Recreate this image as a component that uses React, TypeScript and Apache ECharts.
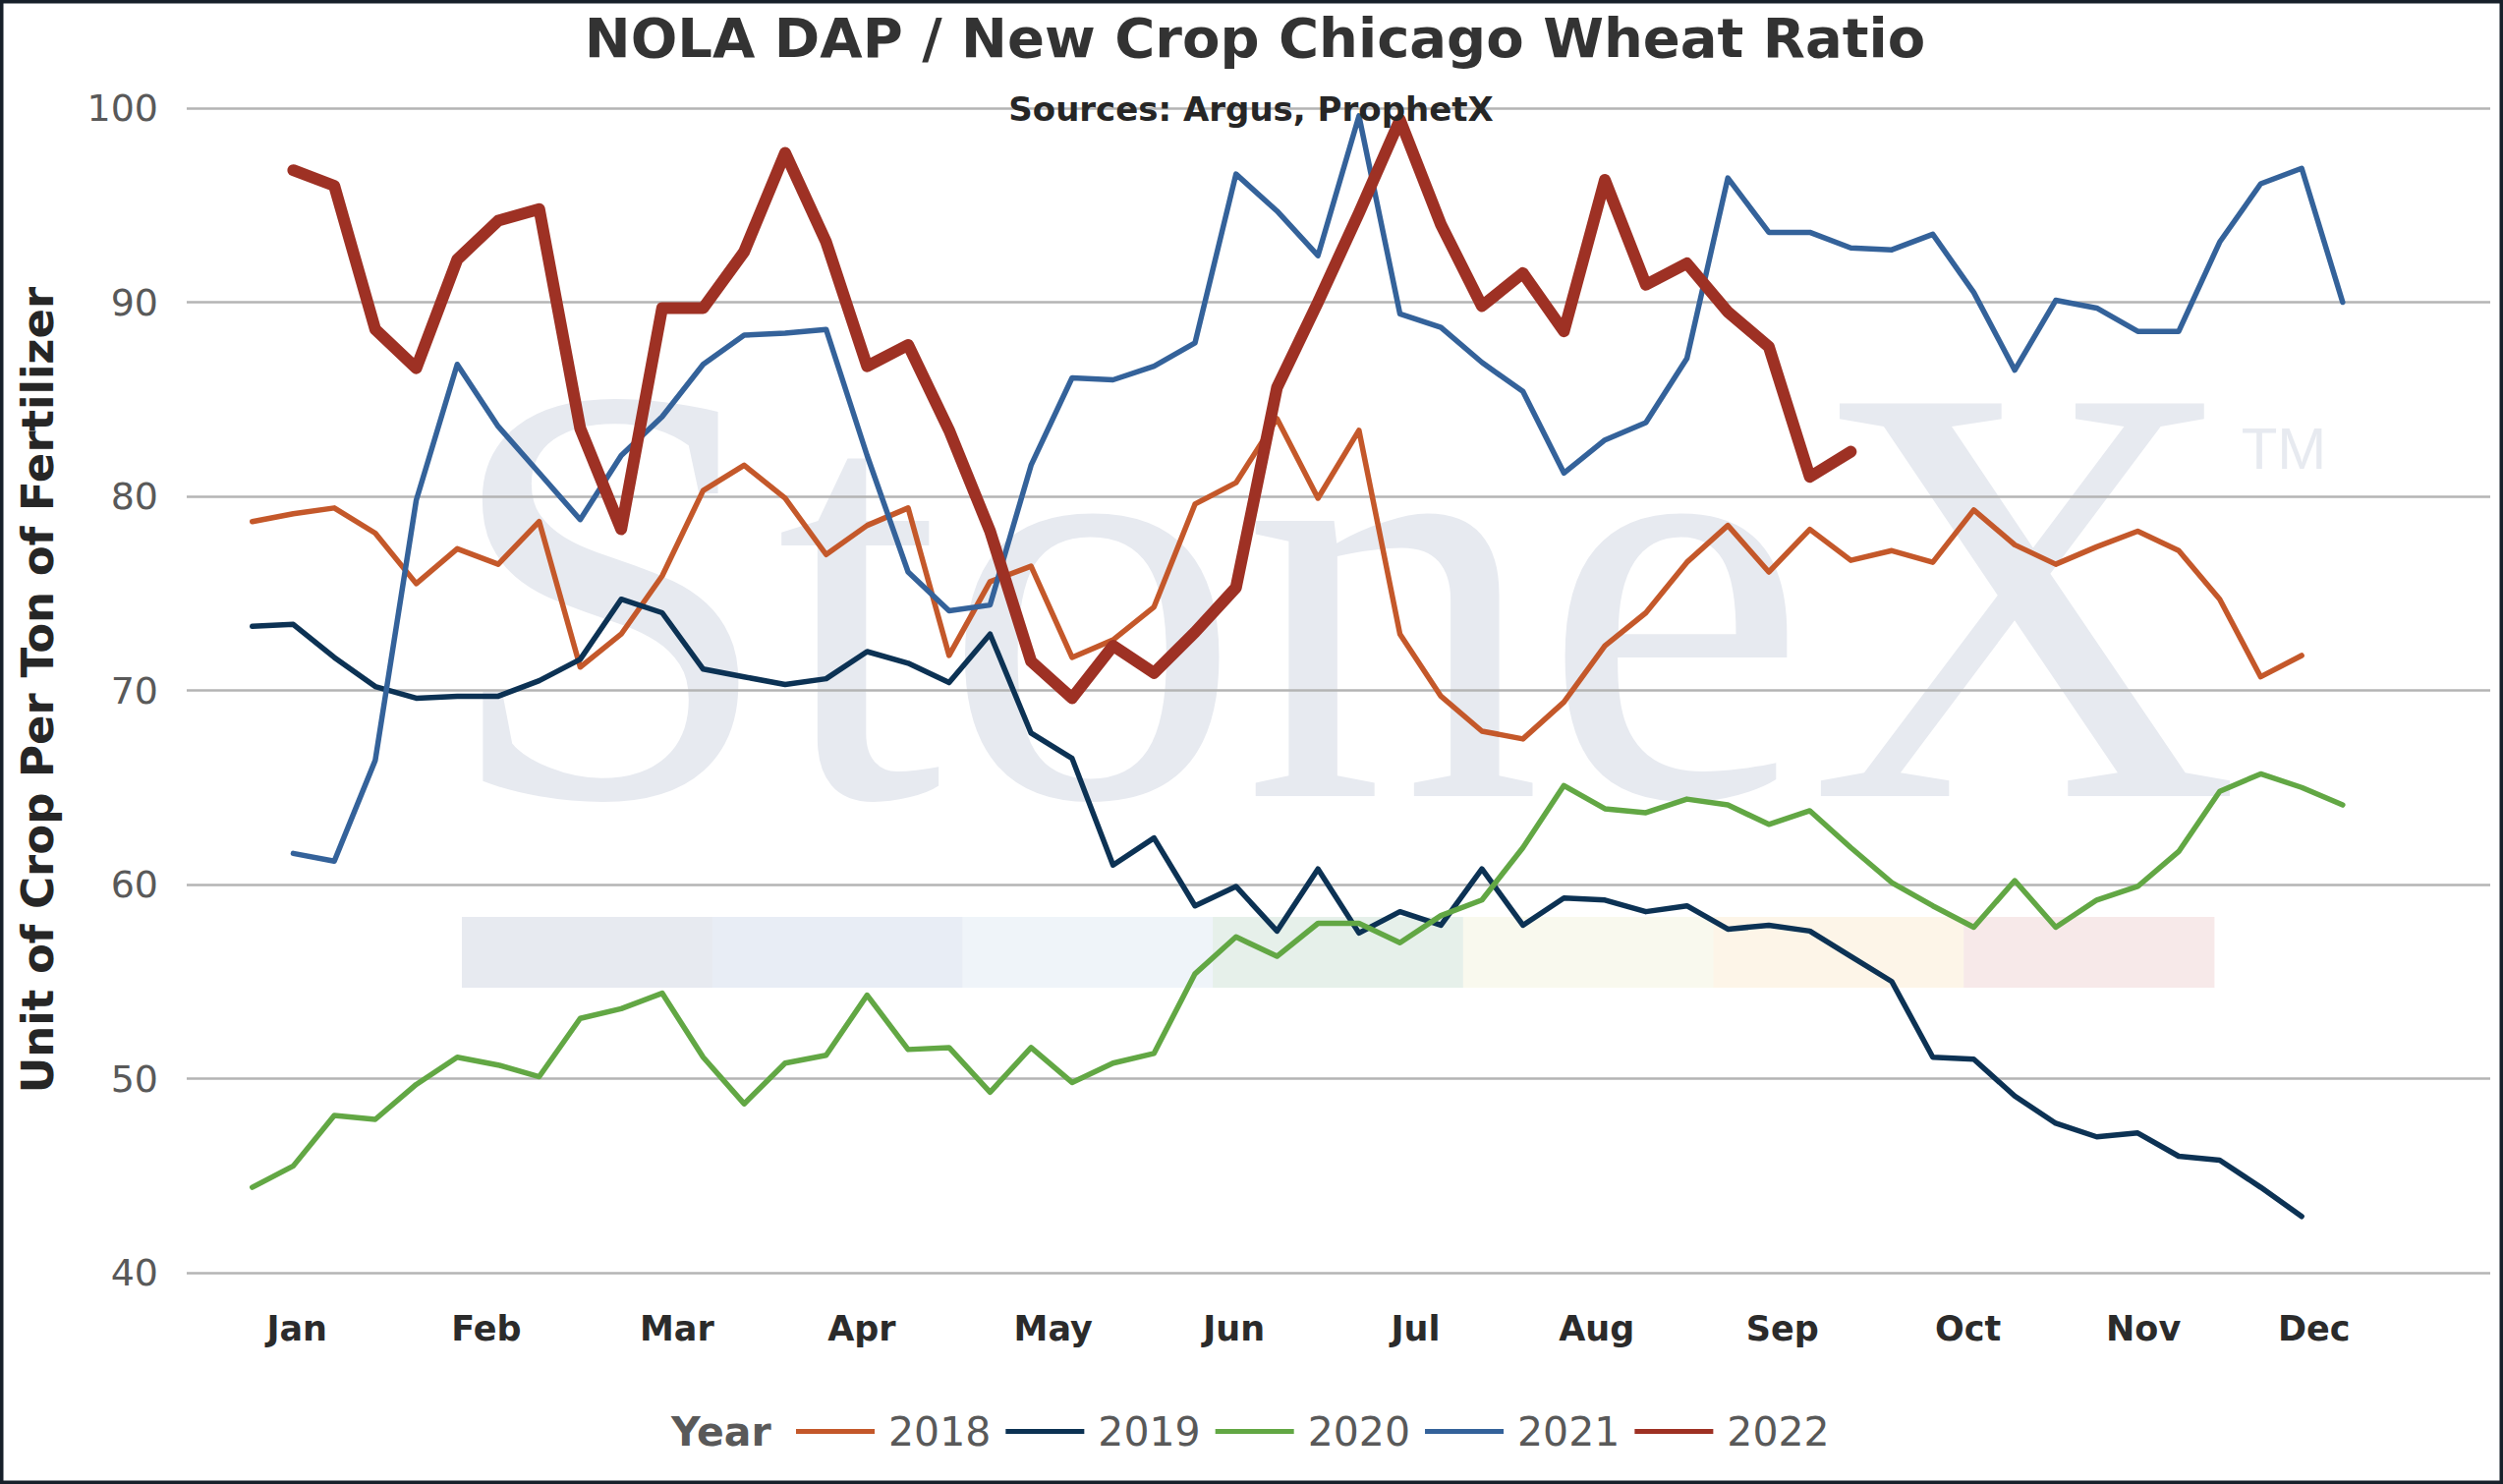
import React, { useEffect, useRef } from "react";
import * as echarts from "echarts";

const YEARS = ["2018", "2019", "2020", "2021", "2022"];
const COLORS = ["#c4582a", "#0c3254", "#62a744", "#34629a", "#9e3124"];
const WIDTHS = [5.5, 5.5, 5.5, 5.5, 12];

const MONTHS = ["Jan", "Feb", "Mar", "Apr", "May", "Jun", "Jul", "Aug", "Sep", "Oct", "Nov", "Dec"];
const MONTH_POS = [1.09, 5.71, 10.36, 14.87, 19.54, 23.95, 28.38, 32.8, 37.33, 41.86, 46.14, 50.3];
const Y_TICKS = [40, 50, 60, 70, 80, 90, 100];

// weekly values, index = week of year (0..51); null = no data
const S2018 = [78.7, 79.1, 79.4, 78.1, 75.5, 77.3, 76.5, 78.7, 71.2, 72.9, 75.9, 80.3, 81.6, 79.9, 77.0, 78.5, 79.4, 71.8, 75.6, 76.4, 71.7, 72.6, 74.3, 79.6, 80.7, 84.0, 79.9, 83.4, 72.9, 69.7, 67.9, 67.5, 69.4, 72.3, 74.0, 76.6, 78.5, 76.1, 78.3, 76.7, 77.2, 76.6, 79.3, 77.5, 76.5, 77.4, 78.2, 77.2, 74.7, 70.7, 71.8, null];
const S2019 = [73.3, 73.4, 71.7, 70.2, 69.6, 69.7, 69.7, 70.5, 71.6, 74.7, 74.0, 71.1, 70.7, 70.3, 70.6, 72.0, 71.4, 70.4, 72.9, 67.8, 66.5, 61.0, 62.4, 58.9, 59.9, 57.6, 60.8, 57.5, 58.6, 57.9, 60.8, 57.9, 59.3, 59.2, 58.6, 58.9, 57.7, 57.9, 57.6, 56.3, 55.0, 51.1, 51.0, 49.1, 47.7, 47.0, 47.2, 46.0, 45.8, 44.4, 42.9, null];
const S2020 = [44.4, 45.5, 48.1, 47.9, 49.7, 51.1, 50.7, 50.1, 53.1, 53.6, 54.4, 51.1, 48.7, 50.8, 51.2, 54.3, 51.5, 51.6, 49.3, 51.6, 49.8, 50.8, 51.3, 55.4, 57.3, 56.3, 58.0, 58.0, 57.0, 58.4, 59.2, 61.9, 65.1, 63.9, 63.7, 64.4, 64.1, 63.1, 63.8, 61.9, 60.1, 58.9, 57.8, 60.2, 57.8, 59.2, 59.9, 61.7, 64.8, 65.7, 65.0, 64.1];
const S2021 = [null, 61.6, 61.2, 66.4, 79.8, 86.8, 83.6, 81.2, 78.8, 82.1, 84.1, 86.8, 88.3, 88.4, 88.6, 82.1, 76.1, 74.1, 74.4, 81.6, 86.1, 86.0, 86.7, 87.9, 96.6, 94.7, 92.4, 99.6, 89.4, 88.7, 86.9, 85.4, 81.2, 82.9, 83.8, 87.1, 96.4, 93.6, 93.6, 92.8, 92.7, 93.5, 90.5, 86.5, 90.1, 89.7, 88.5, 88.5, 93.1, 96.1, 96.9, 90.0];
const S2022 = [null, 96.8, 96.0, 88.6, 86.6, 92.2, 94.2, 94.8, 83.5, 78.3, 89.7, 89.7, 92.6, 97.7, 93.1, 86.7, 87.8, 83.4, 78.2, 71.5, 69.6, 72.3, 70.9, 73.0, 75.3, 85.6, 90.0, 94.6, 99.4, 94.0, 89.8, 91.5, 88.5, 96.3, 90.9, 92.0, 89.5, 87.7, 81.0, 82.3, null, null, null, null, null, null, null, null, null, null, null, null];

const SERIES = [S2018, S2019, S2020, S2021, S2022];

const BAND_COLORS = ["#e7eaf0", "#e8edf5", "#eff4f9", "#e6f0ea", "#f9f9ee", "#fdf5e8", "#f7e9e9"];

const W = 2547;
const H = 1510;
const FONT = "DejaVu Sans";

function monthName(v: number): string {
  let best = 0;
  let bd = Infinity;
  MONTH_POS.forEach((p, i) => {
    const d = Math.abs(p - v);
    if (d < bd) {
      bd = d;
      best = i;
    }
  });
  return bd < 0.5 ? MONTHS[best] : "";
}

export default function App() {
  const ref = useRef<HTMLDivElement>(null);

  useEffect(() => {
    if (!ref.current) return;
    const chart = echarts.init(ref.current, undefined, { renderer: "svg", width: W, height: H });

    const bandX0 = 470;
    const bandW = 254.7;
    const bands = BAND_COLORS.map((c, k) => ({
      type: "rect",
      z: -10,
      silent: true,
      shape: { x: bandX0 + k * bandW, y: 933, width: bandW + 0.5, height: 72 },
      style: { fill: c },
    }));

    const option: any = {
      animation: false,
      backgroundColor: "#ffffff",
      grid: { left: 190, right: 13, top: 110, bottom: 215, containLabel: false },
      xAxis: {
        type: "value",
        min: -1.6,
        max: 54.6,
        axisLine: { show: false },
        axisTick: { show: false },
        splitLine: { show: false },
        axisLabel: {
          customValues: MONTH_POS,
          formatter: (v: number) => monthName(v),
          fontFamily: FONT,
          fontSize: 35,
          fontWeight: "bold",
          color: "#2b2b2b",
          margin: 39,
        },
      },
      yAxis: {
        type: "value",
        min: Y_TICKS[0],
        max: Y_TICKS[Y_TICKS.length - 1],
        interval: 10,
        axisLine: { show: false },
        axisTick: { show: false },
        axisLabel: {
          fontFamily: FONT,
          fontSize: 38,
          color: "#595959",
          margin: 29,
        },
        splitLine: { lineStyle: { color: "#b4b4b4", width: 2.5 } },
      },
      legend: {
        left: 810,
        top: 1436,
        padding: 0,
        icon: "rect",
        itemWidth: 80,
        itemHeight: 5,
        itemGap: 15,
        data: YEARS,
        textStyle: {
          fontFamily: FONT,
          fontSize: 41,
          color: "#595959",
          padding: [0, 0, 0, 9],
        },
      },
      series: YEARS.map((y, i) => ({
        name: y,
        type: "line",
        symbol: "none",
        showSymbol: false,
        color: COLORS[i],
        lineStyle: { color: COLORS[i], width: WIDTHS[i], cap: "round", join: "round" },
        data: SERIES[i]
          .map((v, w) => (v === null ? null : [w, v]))
          .filter((d) => d !== null),
        z: 2 + i,
      })),
      graphic: [
        ...bands,
        {
          type: "text",
          z: -10,
          silent: true,
          x: 450,
          y: 604,
          style: {
            text: "StoneX",
            fontFamily: "Liberation Serif",
            fontSize: 610,
            fill: "#e7eaf0",
            textAlign: "left",
            textVerticalAlign: "middle",
          },
        },
        {
          type: "text",
          z: -10,
          silent: true,
          x: 2324,
          y: 456,
          style: {
            text: "TM",
            fontFamily: "Liberation Sans",
            fontSize: 60,
            fill: "#e7eaf0",
            textAlign: "center",
            textVerticalAlign: "middle",
          },
        },
        {
          type: "text",
          z: 50,
          x: 1277,
          y: 38,
          style: {
            text: "NOLA DAP / New Crop Chicago Wheat Ratio",
            fontFamily: FONT,
            fontSize: 56,
            fontWeight: "bold",
            fill: "#333333",
            textAlign: "center",
            textVerticalAlign: "middle",
          },
        },
        {
          type: "text",
          z: 50,
          x: 1273,
          y: 111,
          style: {
            text: "Sources: Argus, ProphetX",
            fontFamily: FONT,
            fontSize: 34,
            fontWeight: "bold",
            fill: "#262626",
            textAlign: "center",
            textVerticalAlign: "middle",
          },
        },
        {
          type: "text",
          z: 50,
          x: 38,
          y: 702,
          rotation: Math.PI / 2,
          style: {
            text: "Unit of Crop Per Ton of Fertilizer",
            fontFamily: FONT,
            fontSize: 45,
            fontWeight: "bold",
            fill: "#262626",
            textAlign: "center",
            textVerticalAlign: "middle",
          },
        },
        {
          type: "text",
          z: 50,
          x: 683,
          y: 1457,
          style: {
            text: "Year",
            fontFamily: FONT,
            fontSize: 41,
            fontWeight: "bold",
            fill: "#595959",
            textAlign: "left",
            textVerticalAlign: "middle",
          },
        },
        {
          type: "rect",
          z: 60,
          silent: true,
          shape: { x: 1.75, y: 1.75, width: W - 3.5, height: H - 3.5 },
          style: { fill: "none", stroke: "#17202a", lineWidth: 3.5 },
        },
      ],
    };

    chart.setOption(option);
    return () => {
      chart.dispose();
    };
  }, []);

  return (
    <div
      ref={ref}
      style={{ position: "fixed", left: 0, top: 0, width: W, height: H, background: "#fff" }}
    />
  );
}
